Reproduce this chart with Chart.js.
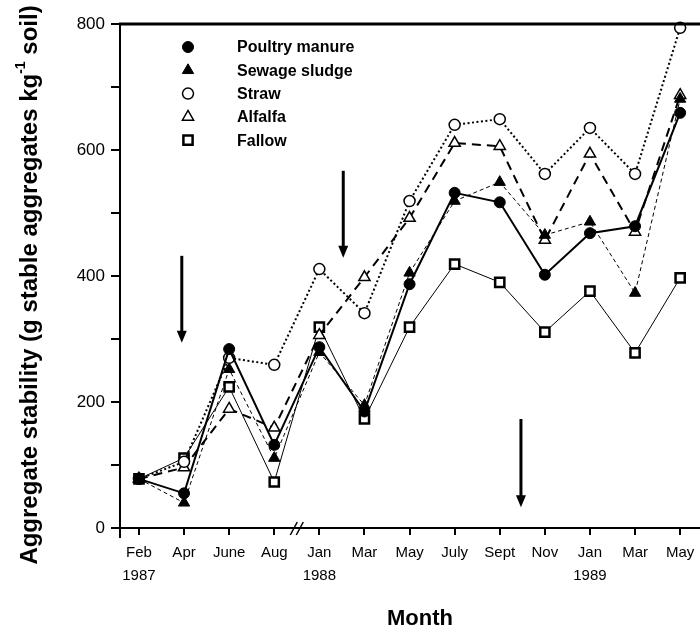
<!DOCTYPE html>
<html>
<head>
<meta charset="utf-8">
<title>Aggregate stability by treatment</title>
<script src="https://cdn.jsdelivr.net/npm/chart.js@4.4.0/dist/chart.umd.min.js"></script>
<style>
  html, body { margin: 0; padding: 0; background: #fff; }
  #wrap { width: 700px; height: 631px; }
</style>
</head>
<body>
<div id="wrap"><canvas id="chart" width="700" height="631"></canvas></div>
<script>
// Sampling months (Feb 1987 – May 1989)
const months = [['Feb', '1987'], 'Apr', 'June', 'Aug', ['Jan', '1988'], 'Mar', 'May',
                'July', 'Sept', 'Nov', ['Jan', '1989'], 'Mar', 'May'];

// Aggregate stability, g stable aggregates per kg soil
const poultryManure = [78, 55, 284, 132, 287, 185, 387, 532, 517, 402, 468, 479, 659];
const sewageSludge  = [78, 40, 252, 111, 279, 195, 405, 519, 549, 465, 486, 373, 681];
const straw         = [78, 105, 270, 259, 411, 341, 519, 640, 649, 562, 635, 562, 794];
const alfalfa       = [78, 96, 189, 159, 306, 398, 492, 611, 606, 457, 594, 470, 687];
const fallow        = [78, 111, 224, 73, 319, 173, 319, 419, 390, 311, 376, 278, 397];

// Amendment application dates (month index position, arrow top / tip value)
const applicationArrows = [
  { at: 0.95, from: 432, to: 294 },
  { at: 4.53, from: 567, to: 429 },
  { at: 8.47, from: 173, to: 33 }
];

// Y-axis tick values
const yTicks = [0, 200, 400, 600, 800];

const FONT = '"Liberation Sans", Arial, Helvetica, sans-serif';

const series = [
  { label: 'Poultry manure', values: poultryManure, pointStyle: 'circle',   radius: 5.5, fill: '#000', pbw: 1,   lw: 2,   dash: [] },
  { label: 'Sewage sludge',  values: sewageSludge,  pointStyle: 'triangle', radius: 6.5, fill: '#000', pbw: 1,   lw: 1,   dash: [4, 3] },
  { label: 'Straw',          values: straw,         pointStyle: 'circle',   radius: 5.5, fill: '#fff', pbw: 1.5, lw: 2,   dash: [2, 2.5] },
  { label: 'Alfalfa',        values: alfalfa,       pointStyle: 'triangle', radius: 6.5, fill: '#fff', pbw: 1.5, lw: 2,   dash: [9, 6] },
  { label: 'Fallow',         values: fallow,        pointStyle: 'rect',     radius: 6.5, fill: '#fff', pbw: 2.5, lw: 1,   dash: [] }
];

const datasets = series.map(s => ({
  label: s.label,
  data: s.values.map((v, i) => ({ x: i, y: v })),
  borderColor: '#000',
  borderWidth: s.lw,
  borderDash: s.dash,
  backgroundColor: s.fill,
  pointStyle: s.pointStyle,
  pointRadius: s.radius,
  pointHoverRadius: s.radius,
  pointBackgroundColor: s.fill,
  pointBorderColor: '#000',
  pointBorderWidth: s.pbw,
  tension: 0,
  fill: false,
  clip: false
}));

// Extra drawing: frame top line, axis break, arrows, legend, axis titles
const decorations = {
  id: 'decorations',
  afterDatasetsDraw(chart) {
    const { ctx, chartArea: a, scales: { x, y } } = chart;
    ctx.save();
    ctx.strokeStyle = '#000';
    ctx.fillStyle = '#000';

    // top frame line
    ctx.lineWidth = 3;
    ctx.beginPath();
    ctx.moveTo(a.left - 1, a.top);
    ctx.lineTo(a.right, a.top);
    ctx.stroke();

    // y axis runs a little below zero
    ctx.lineWidth = 2;
    ctx.beginPath();
    ctx.moveTo(a.left, a.bottom);
    ctx.lineTo(a.left, a.bottom + 10);
    ctx.stroke();

    // axis break between Aug 1987 and Jan 1988
    const bx = x.getPixelForValue(3.5);
    ctx.lineWidth = 1.5;
    for (const dx of [-3, 3]) {
      ctx.beginPath();
      ctx.moveTo(bx + dx - 3.5, a.bottom + 7);
      ctx.lineTo(bx + dx + 3.5, a.bottom - 6);
      ctx.stroke();
    }

    // application arrows
    for (const ar of applicationArrows) {
      const px = x.getPixelForValue(ar.at);
      const y0 = y.getPixelForValue(ar.from);
      const y1 = y.getPixelForValue(ar.to);
      ctx.lineWidth = 3;
      ctx.beginPath();
      ctx.moveTo(px, y0);
      ctx.lineTo(px, y1 - 10);
      ctx.stroke();
      ctx.beginPath();
      ctx.moveTo(px - 5, y1 - 12);
      ctx.lineTo(px + 5, y1 - 12);
      ctx.lineTo(px, y1);
      ctx.closePath();
      ctx.fill();
    }

    // legend
    const mx = a.left + 68, tx = a.left + 117;
    series.forEach((s, i) => {
      const ly = a.top + 23 + i * 23.3;
      ctx.fillStyle = s.fill;
      ctx.strokeStyle = '#000';
      ctx.lineWidth = s.pbw;
      Chart.helpers.drawPoint(ctx, { pointStyle: s.pointStyle, radius: s.radius, rotation: 0, borderWidth: s.pbw }, mx, ly);
      ctx.fillStyle = '#000';
      ctx.font = 'bold 16px ' + FONT;
      ctx.textAlign = 'left';
      ctx.textBaseline = 'middle';
      ctx.fillText(s.label, tx, ly + 1);
    });

    // x axis title
    ctx.fillStyle = '#000';
    ctx.font = 'bold 22px ' + FONT;
    ctx.textAlign = 'center';
    ctx.textBaseline = 'middle';
    ctx.fillText('Month', 420, 619);

    // y axis title with superscript
    const parts = [
      { t: 'Aggregate stability (g stable aggregates kg', f: 'bold 24px ' + FONT, dy: 0 },
      { t: '-1', f: 'bold 14px ' + FONT, dy: -9 },
      { t: ' soil)', f: 'bold 24px ' + FONT, dy: 0 }
    ];
    let total = 0;
    for (const p of parts) { ctx.font = p.f; p.w = ctx.measureText(p.t).width; total += p.w; }
    ctx.translate(30, 285);
    ctx.rotate(-Math.PI / 2);
    ctx.textAlign = 'left';
    ctx.textBaseline = 'middle';
    let cx = -total / 2;
    for (const p of parts) {
      ctx.font = p.f;
      ctx.fillText(p.t, cx, p.dy);
      cx += p.w;
    }
    ctx.restore();
  }
};

new Chart(document.getElementById('chart'), {
  type: 'line',
  data: { datasets },
  options: {
    responsive: false,
    animation: false,
    devicePixelRatio: 1,
    layout: { autoPadding: false, padding: { top: 24, left: 0, right: 0, bottom: 0 } },
    plugins: { legend: { display: false }, tooltip: { enabled: false } },
    scales: {
      x: {
        type: 'linear',
        position: 'bottom',
        min: -0.42,
        max: 12.44,
        border: { display: true, color: '#000', width: 2 },
        grid: { display: true, drawOnChartArea: false, drawTicks: true, tickLength: 7, color: '#000', lineWidth: 2 },
        afterBuildTicks: s => { s.ticks = months.map((_, i) => ({ value: i })); },
        afterFit: s => { s.height = 103; s.paddingLeft = 0; s.paddingRight = 0; },
        ticks: {
          autoSkip: false,
          maxRotation: 0,
          minRotation: 0,
          padding: 6,
          color: '#000',
          font: { family: FONT, size: 15, lineHeight: 1.55 },
          callback: (v, i) => months[i]
        }
      },
      y: {
        type: 'linear',
        min: 0,
        max: 800,
        border: { display: true, color: '#000', width: 2 },
        grid: { display: true, drawOnChartArea: false, drawTicks: true, tickLength: 9, color: '#000', lineWidth: 2 },
        afterFit: s => { s.width = 120; s.paddingTop = 0; s.paddingBottom = 0; },
        ticks: {
          stepSize: 100,
          padding: 6,
          color: '#000',
          font: { family: FONT, size: 17 },
          callback: v => (yTicks.includes(v) ? String(v) : '')
        }
      }
    }
  },
  plugins: [decorations]
});
</script>
</body>
</html>
